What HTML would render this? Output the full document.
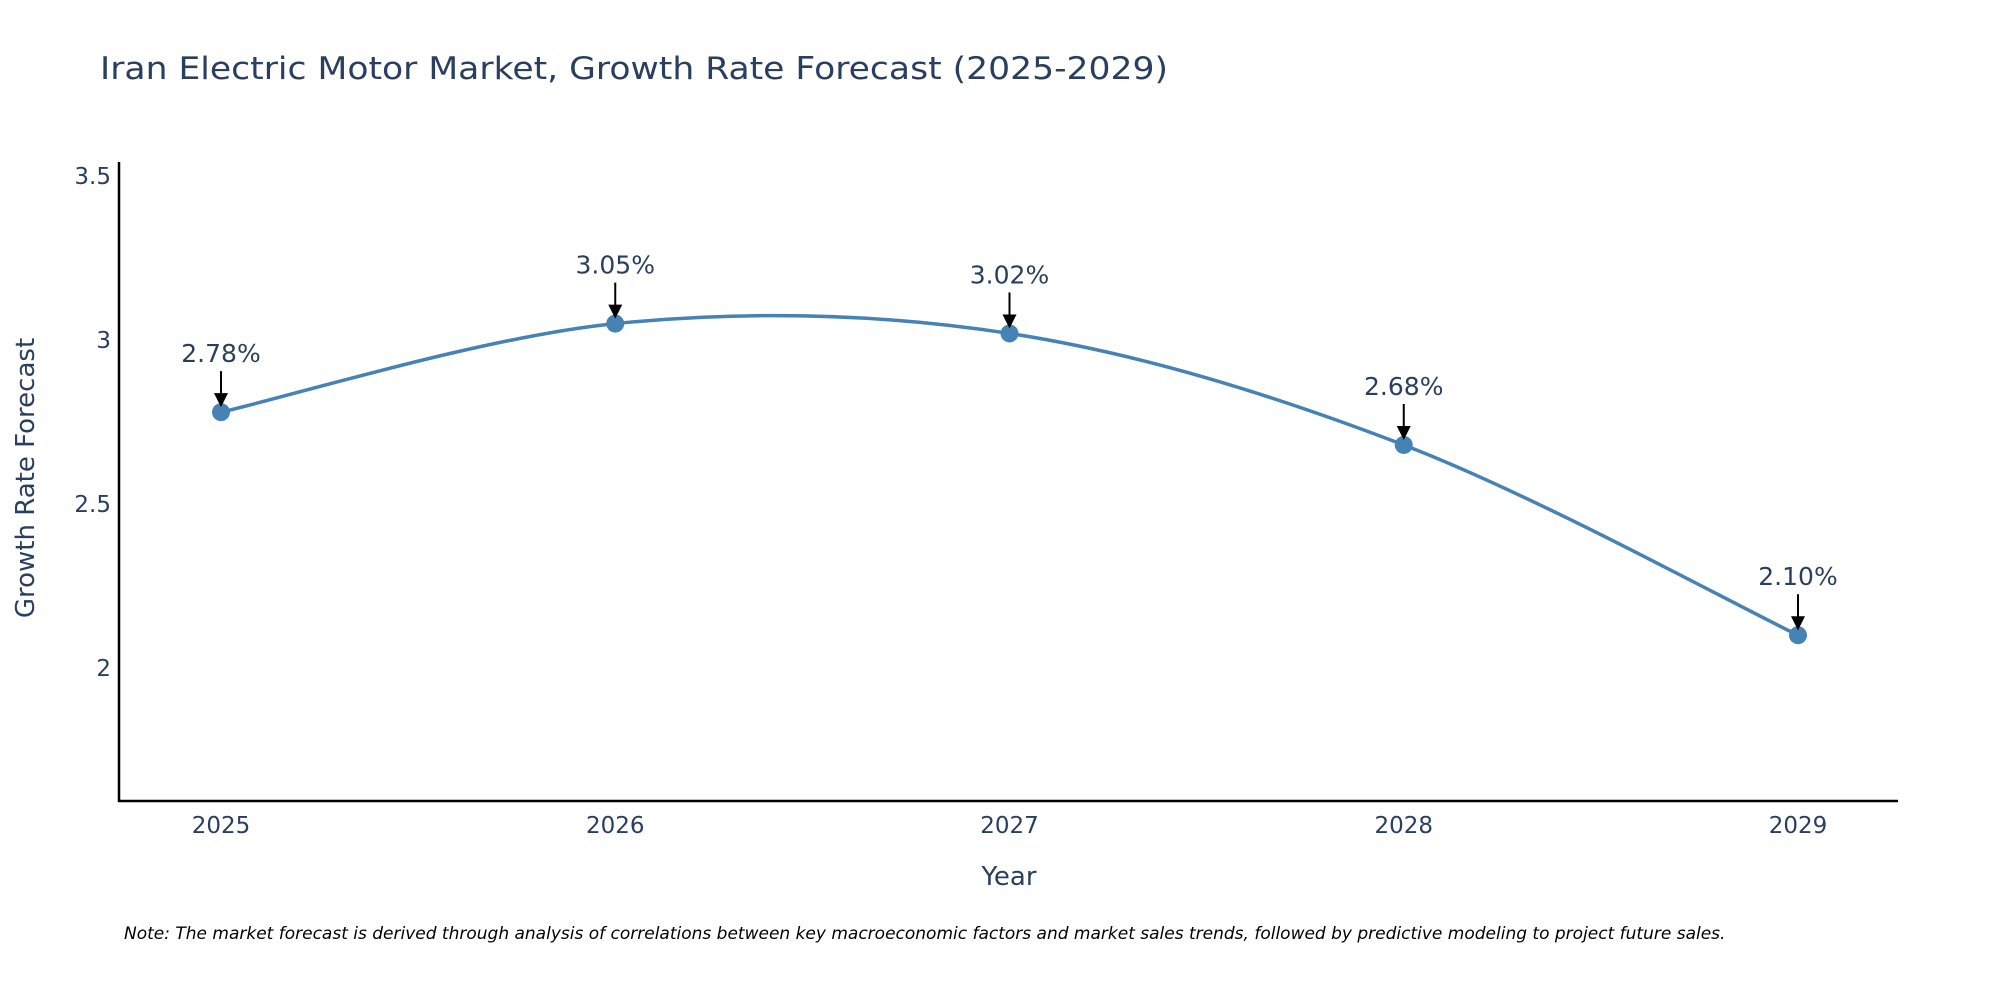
<!DOCTYPE html>
<html><head><meta charset="utf-8"><style>
html,body{margin:0;padding:0;background:#fff;}
svg{display:block;font-family:"DejaVu Sans","Liberation Sans",sans-serif;}
</style></head><body>
<svg id="chart" width="2000" height="1000" viewBox="0 0 2000 1000">
<text x="100" y="79" font-size="31" fill="#2a3f5f" textLength="1068" lengthAdjust="spacingAndGlyphs">Iran Electric Motor Market, Growth Rate Forecast (2025-2029)</text>
<g id="yticks"></g>
<g id="xticks"></g>
<line x1="119" y1="162" x2="119" y2="802" stroke="#000" stroke-width="2.5"/>
<line x1="118" y1="801" x2="1898" y2="801" stroke="#000" stroke-width="2.5"/>
<text transform="translate(34,478) rotate(-90)" text-anchor="middle" font-size="26" fill="#2a3f5f">Growth Rate Forecast</text>
<text x="1009" y="885" text-anchor="middle" font-size="26" fill="#2a3f5f">Year</text>
<g id="series"></g>
<g id="annots"></g>
<text x="124" y="939" font-size="17" font-style="italic" fill="#000">Note: The market forecast is derived through analysis of correlations between key macroeconomic factors and market sales trends, followed by predictive modeling to project future sales.</text>
</svg>
<script>
const years = [2025, 2026, 2027, 2028, 2029];
const growth = [2.78, 3.05, 3.02, 2.68, 2.10];
const labels = ["2.78%", "3.05%", "3.02%", "2.68%", "2.10%"];
const yTicks = [2, 2.5, 3, 3.5];
const yTickLabels = ["2", "2.5", "3", "3.5"];

const NS = "http://www.w3.org/2000/svg";
function xS(v){ return 221 + (v - 2025) * (1798 - 221) / 4; }
function yS(v){ return 668 - (v - 2) * 328; }
function mk(tag, attrs, parent){ const e = document.createElementNS(NS, tag); for (const k in attrs) e.setAttribute(k, attrs[k]); parent.appendChild(e); return e; }

const yg = document.getElementById('yticks');
yTicks.forEach((t, i) => {
  const el = mk('text', {x: 111, y: yS(t) + 8, 'text-anchor': 'end', 'font-size': 23, fill: '#2a3f5f'}, yg);
  el.textContent = yTickLabels[i];
  
  
});
const xg = document.getElementById('xticks');
years.forEach(y => {
  const el = mk('text', {x: xS(y), y: 833, 'text-anchor': 'middle', 'font-size': 23, fill: '#2a3f5f'}, xg);
  el.textContent = String(y);
  
  
});

const pts = years.map((y, i) => [xS(y), yS(growth[i])]);
let d = `M${pts[0][0]},${pts[0][1]}`;
for (let i = 0; i < pts.length - 1; i++) {
  const p0 = pts[Math.max(0, i - 1)], p1 = pts[i], p2 = pts[i + 1], p3 = pts[Math.min(pts.length - 1, i + 2)];
  const t = 1 / 6;
  const c1 = [p1[0] + (p2[0] - p0[0]) * t, p1[1] + (p2[1] - p0[1]) * t];
  const c2 = [p2[0] - (p3[0] - p1[0]) * t, p2[1] - (p3[1] - p1[1]) * t];
  d += ` C${c1[0]},${c1[1]} ${c2[0]},${c2[1]} ${p2[0]},${p2[1]}`;
}
const sg = document.getElementById('series');
const line = mk('path', {d: d, fill: 'none', stroke: '#4682b4', 'stroke-width': 3.5}, sg);


pts.forEach(p => {
  const c = mk('circle', {cx: p[0], cy: p[1], r: 9, fill: '#4682b4'}, sg);
  
  
});

const ag = document.getElementById('annots');
pts.forEach((p, i) => {
  const ln = mk('line', {x1: p[0], y1: p[1] - 41, x2: p[0], y2: p[1] - 18, stroke: '#000', 'stroke-width': 2}, ag);
  
  
  const hd = mk('polygon', {points: `${p[0]-7},${p[1]-19} ${p[0]+7},${p[1]-19} ${p[0]},${p[1]-5}`, fill: '#000'}, ag);
  
  
  const tx = mk('text', {x: p[0], y: p[1] - 50, 'text-anchor': 'middle', 'font-size': 25, fill: '#2a3f5f'}, ag);
  tx.textContent = labels[i];
  
  
});
</script>
</body></html>
